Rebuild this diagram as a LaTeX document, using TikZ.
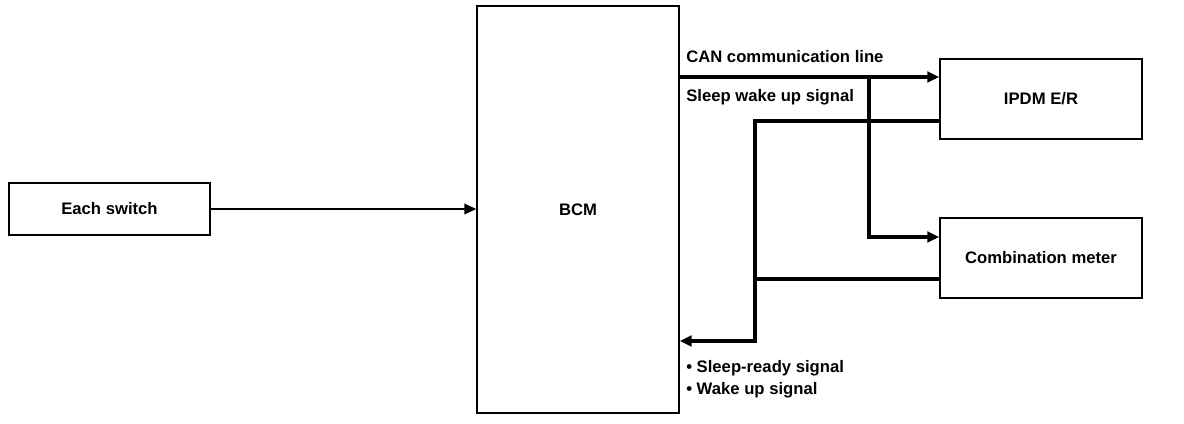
\documentclass[tikz,border=0pt]{standalone}
\usepackage{fontspec}
\setmainfont{Liberation Sans}
\usetikzlibrary{arrows.meta,positioning,calc}

\begin{document}
\begin{tikzpicture}[x=0.75pt,y=-0.75pt,
  font=\bfseries\fontsize{12.5}{14}\selectfont,
  unit/.style={draw,line width=1.1pt,inner sep=0pt,minimum width=151.5pt},
  bus/.style={line width=3.4pt},
  wire/.style={line width=1.1pt},
  tip/.style={-{Triangle[length=9pt,width=8pt]}},
  lbl/.style={anchor=west,inner sep=0pt}]
  \useasboundingbox (0,0) rectangle (1184,424);
  \node[unit,minimum width=150.75pt,minimum height=39pt] (sw) at (109.5,209) {Each switch};
  \node[unit,minimum height=305.25pt] (bcm) at (578,209.5) {BCM};
  \node[unit,minimum height=60pt] (ipdm) at (1041,99) {IPDM E/R};
  \node[unit,minimum height=60pt] (meter) at (1041,258) {Combination meter};
  \coordinate (canj) at (869,77);
  \coordinate (slpj) at (755,341);
  % inputs
  \draw[wire,tip] (sw.east) -- (bcm.west |- sw.east);
  % CAN line
  \draw[bus,tip] (bcm.east |- canj) -- (ipdm.west |- canj);
  \draw[bus,tip] (canj) |- (meter.west |- 0,237);
  % sleep / wake up
  \draw[bus,tip] (ipdm.west |- 0,121) -| (slpj) -- (bcm.east |- slpj);
  \draw[bus] (meter.west |- 0,279) -- (slpj |- 0,279);
  \node[lbl] (canlbl) at (686,57) {CAN communication line};
  \node[lbl] (slplbl) at (686,97) {Sleep wake up signal};
  \node[lbl] (rdy) at (686,368) {\textbullet\ Sleep-ready signal};
  \node[lbl] (wake) at (686,390) {\textbullet\ Wake up signal};
\end{tikzpicture}
\end{document}
